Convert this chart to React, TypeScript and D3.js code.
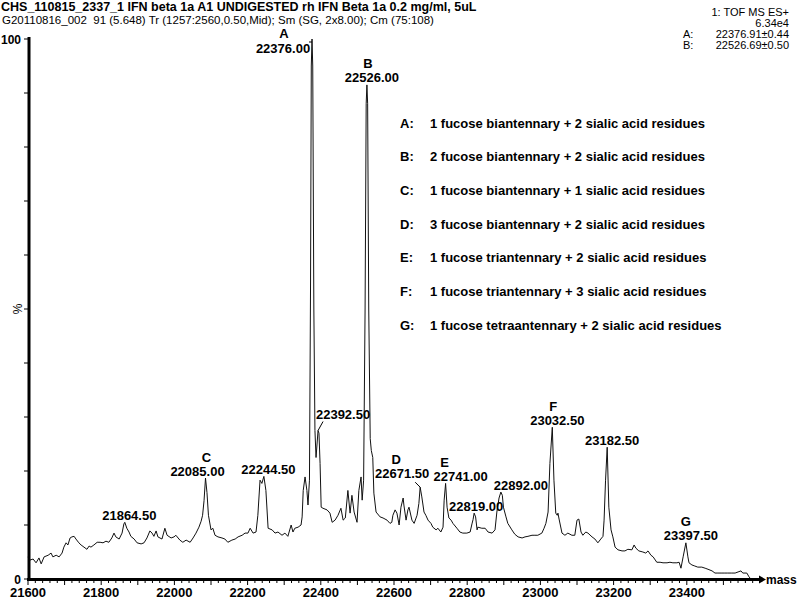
import React from 'react';
import * as d3 from 'd3';

// ---------- data ----------
const MASS = [
  21600, 21605, 21614, 21622, 21630, 21636, 21644, 21655, 21663, 21668, 21677, 21685, 21693, 21698, 21704, 21709,
  21715, 21720, 21726, 21731, 21739, 21745, 21753, 21761, 21767, 21772, 21780, 21789, 21797, 21805, 21813, 21821,
  21829, 21835, 21840, 21849, 21857, 21862, 21864.5, 21870, 21876, 21881, 21890, 21898, 21909, 21917, 21925, 21933,
  21939, 21944, 21950, 21955, 21966, 21974, 21980, 21991, 21999, 22004, 22015, 22023, 22032, 22043, 22051, 22059,
  22067, 22073, 22077, 22081, 22085, 22089, 22093, 22100, 22105, 22111, 22119, 22130, 22138, 22146, 22157, 22166,
  22174, 22185, 22193, 22201, 22207, 22215, 22223, 22228, 22234, 22239, 22244.5, 22250, 22256, 22267, 22275, 22283,
  22294, 22302, 22310, 22319, 22324, 22329, 22338, 22346, 22349, 22352, 22357, 22362, 22365, 22369, 22372, 22374,
  22376, 22378, 22381, 22384, 22387, 22392.5, 22395, 22398, 22401, 22406, 22417, 22425, 22431, 22439, 22447, 22455,
  22461, 22467, 22474, 22480, 22485, 22491, 22499, 22504, 22510, 22513, 22517, 22521, 22524, 22526, 22528, 22531,
  22535, 22538, 22542, 22545, 22551, 22562, 22570, 22581, 22589, 22594, 22597, 22603, 22608, 22614, 22619, 22625,
  22627, 22633, 22638, 22641, 22649, 22655, 22663, 22668, 22671.5, 22676, 22682, 22687, 22693, 22701, 22706, 22715,
  22720, 22728, 22734, 22737, 22741, 22745, 22750, 22756, 22761, 22772, 22780, 22788, 22799, 22808, 22813, 22816,
  22819, 22823, 22827, 22829, 22840, 22849, 22857, 22868, 22876, 22881, 22887, 22892, 22896, 22899, 22906, 22911,
  22922, 22930, 22939, 22950, 22958, 22966, 22977, 22985, 22993, 23004, 23010, 23015, 23021, 23026, 23032.5, 23037,
  23042, 23046, 23048, 23051, 23059, 23067, 23075, 23086, 23094, 23100, 23105, 23111, 23116, 23124, 23130, 23141,
  23149, 23157, 23165, 23171, 23174, 23178, 23182.5, 23187, 23193, 23198, 23204, 23212, 23223, 23231, 23239, 23250,
  23256, 23261, 23269, 23280, 23288, 23294, 23302, 23308, 23318, 23327, 23335, 23346, 23354, 23362, 23373, 23379,
  23384, 23390, 23397.5, 23403, 23406, 23414, 23422, 23430, 23441, 23450, 23458, 23469, 23477, 23485, 23496, 23504,
  23512, 23523, 23532, 23540, 23548, 23553, 23564, 23570, 23575,
];

const INTENSITY = [
  4.1, 3.5, 3.7, 3.0, 3.9, 2.8, 4.1, 4.4, 4.8, 4.1, 4.4, 4.1, 4.8, 5.9, 6.7, 6.3,
  7.6, 7.8, 7.9, 7.4, 6.7, 6.3, 5.9, 5.5, 6.1, 5.9, 6.3, 6.8, 6.8, 6.7, 7.0, 6.8,
  7.6, 8.5, 7.8, 7.4, 8.5, 10.2, 10.5, 9.4, 8.7, 7.9, 7.4, 6.7, 6.5, 6.7, 7.6, 8.9,
  8.5, 7.9, 8.9, 7.8, 7.4, 9.4, 8.1, 7.6, 7.8, 8.1, 7.2, 6.8, 7.2, 6.8, 7.6, 8.5,
  9.6, 10.7, 11.8, 14.5, 18.7, 16.0, 11.8, 9.1, 9.4, 8.1, 7.8, 7.6, 7.4, 6.8, 7.2, 7.4,
  7.8, 8.1, 8.5, 8.5, 9.4, 8.5, 8.7, 11.8, 18.3, 17.7, 19.0, 16.4, 9.4, 9.1, 8.5, 8.7,
  8.1, 8.5, 7.9, 10.0, 8.7, 9.4, 9.6, 10.0, 11.5, 16.4, 18.9, 16.4, 13.7, 18.3, 55, 95,
  100, 95, 50, 27.5, 22.5, 27.5, 27.0, 21.4, 13.3, 13.1, 12.8, 12.2, 10.5, 10.9, 11.8, 13.1,
  10.9, 11.3, 16.4, 12.2, 15.5, 12.4, 10.5, 16.4, 18.9, 14.6, 18.3, 50, 88, 91.5, 88, 50,
  26, 23.8, 22.5, 15.9, 12.4, 11.5, 11.3, 10.9, 10.3, 10.5, 11.8, 12.8, 12.2, 10.0, 13.3, 15.0,
  13.7, 10.9, 12.8, 13.3, 10.9, 10.3, 11.8, 14.0, 17.0, 15.2, 12.4, 11.8, 10.9, 10.3, 9.6, 9.1,
  9.4, 8.7, 9.6, 14.6, 17.7, 13.3, 11.3, 10.9, 10.3, 9.4, 8.7, 8.5, 8.5, 8.7, 10.2, 11.0,
  12.2, 11.5, 9.1, 9.6, 9.4, 9.4, 8.7, 8.5, 9.1, 12.4, 15.0, 16.1, 15.5, 13.3, 11.5, 10.3,
  9.1, 8.3, 7.8, 7.6, 7.8, 7.9, 8.1, 8.1, 8.1, 8.5, 9.4, 10.3, 12.4, 21.4, 28.1, 18.3,
  12.2, 11.8, 12.2, 11.1, 8.5, 8.1, 8.5, 8.1, 8.1, 10.9, 11.1, 8.7, 8.1, 8.7, 8.5, 7.8,
  7.4, 6.7, 7.4, 7.9, 10.9, 18.3, 24.4, 13.3, 9.1, 7.8, 5.9, 5.4, 5.2, 5.2, 5.5, 5.4,
  6.3, 5.7, 5.2, 5.0, 4.8, 5.2, 4.4, 4.1, 3.1, 3.1, 3.0, 3.0, 3.1, 3.0, 3.0, 3.1,
  2.0, 4.1, 6.7, 4.1, 3.0, 2.6, 2.4, 2.2, 2.2, 2.0, 1.8, 1.5, 1.1, 1.1, 1.1, 1.1,
  1.1, 1.1, 1.1, 1.3, 1.5, 1.1, 1.1, 0.4, 0,
];

const PEAK_MASSES = [22376.0, 22526.0, 22085.0, 22244.5, 21864.5, 22392.5, 22671.5, 22741.0, 22819.0, 22892.0, 23032.5, 23182.5, 23397.5];
const PEAK_LETTERS = ['A', 'B', 'C', '', '', '', 'D', 'E', '', '', 'F', '', 'G'];

const LEGEND_KEYS = ['A:', 'B:', 'C:', 'D:', 'E:', 'F:', 'G:'];
const LEGEND_TEXT = [
  '1 fucose biantennary + 2 sialic acid residues',
  '2 fucose biantennary + 2 sialic acid residues',
  '1 fucose biantennary + 1 sialic acid residues',
  '3 fucose biantennary + 2 sialic acid residues',
  '1 fucose triantennary + 2 sialic acid residues',
  '1 fucose triantennary + 3 sialic acid residues',
  '1 fucose tetraantennary + 2 sialic acid residues',
];

const X_LABEL_TICKS = [21600, 21800, 22000, 22200, 22400, 22600, 22800, 23000, 23200, 23400];
const Y_LABEL_TICKS = [0, 100];

const TITLE = 'CHS_110815_2337_1 IFN beta 1a A1 UNDIGESTED rh IFN Beta 1a 0.2 mg/ml, 5uL';
const SUBTITLE = 'G20110816_002  91 (5.648) Tr (1257:2560,0.50,Mid); Sm (SG, 2x8.00); Cm (75:108)';
const INFO = ['1: TOF MS ES+', '6.34e4'];
const FIT_KEYS = ['A:', 'B:'];
const FIT_VALUES = ['22376.91±0.44', '22526.69±0.50'];

// ---------- layout (pixel nudges for labels, not data) ----------
const LABEL_LAYOUT = [
  { dx: -29, ldx: -28, dy: 13.5, gap: 14.5, leader: [[-3, 3], [0, 3]] },
  { dx: 5, ldx: 1, dy: -2.5, gap: 14, leader: null },
  { dx: -8, ldx: 1, dy: -2.5, gap: 14, leader: null },
  { dx: 4.5, ldx: 0, dy: -2.5, gap: 14, leader: null },
  { dx: 4.5, ldx: 0, dy: -2.5, gap: 14, leader: null },
  { dx: 25, ldx: 0, dy: -11.5, gap: 14, leader: [[5, -9], [0, 0]] },
  { dx: -18, ldx: -24, dy: -9.5, gap: 14, leader: [[-5, -5], [0, 0]] },
  { dx: 15, ldx: -1, dy: -2.5, gap: 14, leader: null },
  { dx: 2, ldx: 0, dy: -2.5, gap: 14, leader: null },
  { dx: 20, ldx: 0, dy: -2.5, gap: 14, leader: null },
  { dx: 5, ldx: 1, dy: -2.5, gap: 14, leader: null },
  { dx: 5, ldx: 0, dy: -2.5, gap: 14, leader: null },
  { dx: 5, ldx: 0, dy: -2.5, gap: 14, leader: null },
];

const FONT = '"Liberation Sans", Arial, Helvetica, sans-serif';

export default function App() {
  const W = 798;
  const H = 600;
  const x = d3.scaleLinear().domain([21600, 23600]).range([28, 760]);
  const y = d3.scaleLinear().domain([0, 100]).range([579, 39]);

  const pts = MASS.map((m, i) => [m, INTENSITY[i]] as [number, number]);
  const line = d3.line<[number, number]>().x((d) => x(d[0])).y((d) => y(d[1]));
  const path = line(pts) || '';

  const intensityAt = (m: number) => {
    let best = 0;
    let bd = Infinity;
    MASS.forEach((v, i) => {
      const d = Math.abs(v - m);
      if (d < bd) { bd = d; best = i; }
    });
    return INTENSITY[best];
  };

  const minorTicks = d3.range(21600, 23600, 20);
  const yTicks = d3.range(0, 101, 10);

  const labelFont = 13;

  return (
    <svg width={W} height={H} style={{ position: 'absolute', left: 0, top: 0, background: '#fff' }} fontFamily={FONT}>
      <rect x={0} y={0} width={W} height={H} fill="#fff" />
      {/* header */}
      <text x={1} y={10.5} fontSize={12.5} fontWeight="bold" fill="#000">{TITLE}</text>
      <text x={2} y={23.5} fontSize={11.5} fill="#000" style={{ whiteSpace: 'pre' }}>{SUBTITLE}</text>
      <text x={789} y={16} fontSize={11} textAnchor="end" fill="#000">{INFO[0]}</text>
      <text x={789} y={27} fontSize={11} textAnchor="end" fill="#000">{INFO[1]}</text>
      {FIT_KEYS.map((k, i) => (
        <g key={k}>
          <text x={683} y={38 + i * 11} fontSize={11} fill="#000">{k}</text>
          <text x={789} y={38 + i * 11} fontSize={11} textAnchor="end" fill="#000">{FIT_VALUES[i]}</text>
        </g>
      ))}

      {/* spectrum */}
      <path d={path} fill="none" stroke="#111" strokeWidth={1} strokeLinejoin="round" />

      {/* y axis */}
      <line x1={29} x2={29} y1={y(100) - 2} y2={580} stroke="#000" strokeWidth={3} />
      {yTicks.map((t) => (
        <line key={t} x1={24} x2={29} y1={y(t)} y2={y(t)} stroke="#000" strokeWidth={1} />
      ))}
      {Y_LABEL_TICKS.map((t) => (
        <text key={t} x={21} y={y(t) + 4.5} fontSize={12} fontWeight="bold" textAnchor="end" fill="#000">{t}</text>
      ))}
      <text transform={`translate(22,${y(50)}) rotate(-90)`} fontSize={12} textAnchor="middle" fill="#000">%</text>

      {/* x axis */}
      <line x1={27} x2={760} y1={579.5} y2={579.5} stroke="#000" strokeWidth={3} />
      <path d={`M${x(23600) - 1},${575.5} L${x(23600) + 6},${579.5} L${x(23600) - 1},${583.5} Z`} fill="#000" />
      {minorTicks.map((t) => {
        const major = t % 100 === 0;
        return <line key={t} x1={x(t)} x2={x(t)} y1={580} y2={major ? 585 : 583} stroke="#000" strokeWidth={1} />;
      })}
      {X_LABEL_TICKS.map((t) => (
        <text key={t} x={x(t)} y={597} fontSize={13} fontWeight="bold" textAnchor="middle" fill="#000">{t}</text>
      ))}
      <text x={766} y={584} fontSize={12} fontWeight="bold" fill="#000">mass</text>

      {/* peak labels */}
      {PEAK_MASSES.map((m, i) => {
        const L = LABEL_LAYOUT[i];
        const px = x(m);
        const py = y(intensityAt(m));
        const by = py + L.dy;
        return (
          <g key={m}>
            <text x={px + L.dx} y={by} fontSize={labelFont} fontWeight="bold" textAnchor="middle" fill="#000">{m.toFixed(2)}</text>
            {PEAK_LETTERS[i] && (
              <text x={px + L.ldx} y={by - L.gap} fontSize={labelFont} fontWeight="bold" textAnchor="middle" fill="#000">{PEAK_LETTERS[i]}</text>
            )}
            {L.leader && (
              <polyline
                points={L.leader.map((p) => `${px + p[0]},${py + p[1]}`).join(' ')}
                fill="none" stroke="#000" strokeWidth={1}
              />
            )}
          </g>
        );
      })}

      {/* legend */}
      {LEGEND_KEYS.map((k, i) => (
        <g key={k}>
          <text x={400} y={127.5 + i * 33.7} fontSize={13} fontWeight="bold" fill="#000">{k}</text>
          <text x={430} y={127.5 + i * 33.7} fontSize={13} fontWeight="bold" fill="#000">{LEGEND_TEXT[i]}</text>
        </g>
      ))}
    </svg>
  );
}
